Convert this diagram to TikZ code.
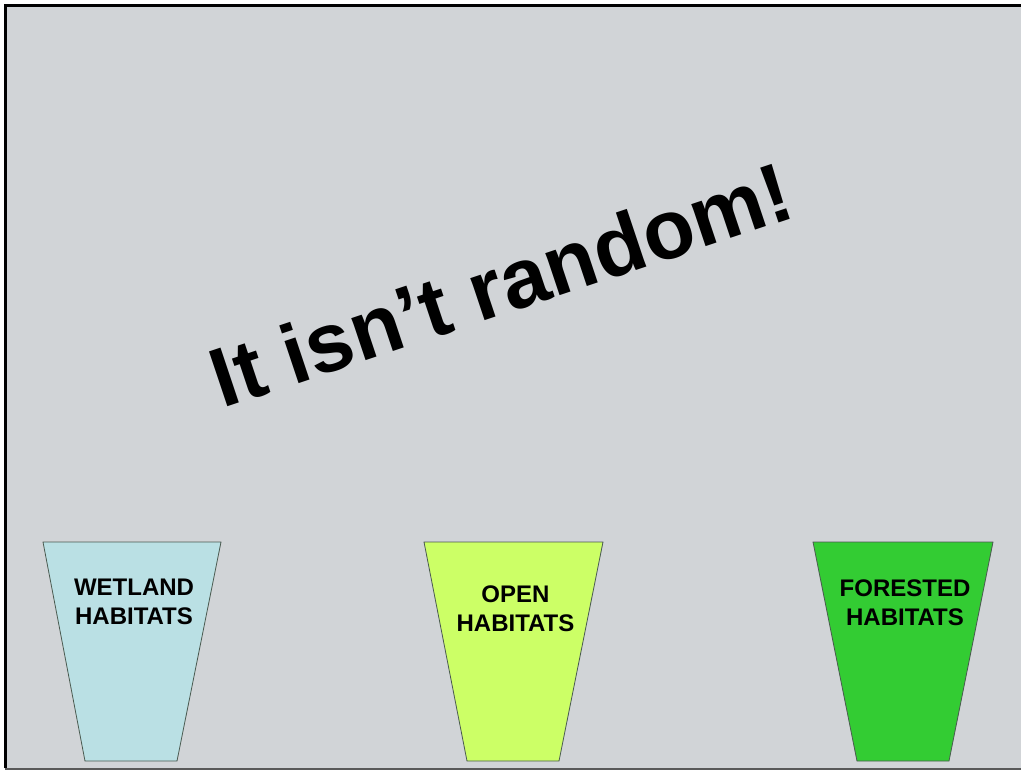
\documentclass[tikz,border=0pt]{standalone}
\usepackage{fontspec}
\setmainfont{Liberation Sans}
\usetikzlibrary{positioning,calc}
\definecolor{slidegray}{HTML}{D1D4D7}
\definecolor{wetcol}{HTML}{BAE0E4}
\definecolor{opencol}{HTML}{CCFF66}
\definecolor{forestcol}{HTML}{33CC33}
\definecolor{edgecol}{HTML}{4A5A50}

\begin{document}
\begin{tikzpicture}[x=1pt,y=-1pt]
\useasboundingbox (0,0) rectangle (1021,770);
% slide background and frame
\fill[slidegray] (6,5) rectangle (1021,768);
\draw[line width=3pt] (5.5,768) -- (5.5,5.5) -- (1021,5.5);
\draw[gray!70!black,line width=1.5pt] (5,769.2) -- (1021,769.2);
% headline
\node[font=\bfseries\fontsize{84}{90}\selectfont,rotate=18.5] (title) at (501,284) {It isn’t random!};
% habitat bins: top corners, bottom corners, label height, colour, label
\foreach \nm/\xl/\xr/\bl/\br/\ty/\col/\lbl in {wet/43/221/85/177/602/wetcol/WETLAND,open/424/603/467/559/609/opencol/OPEN,forest/813/993/857/949/603/forestcol/FORESTED} {
  \filldraw[fill=\col,draw=edgecol,line width=0.8pt] (\xl,542) -- (\xr,542) -- (\br,761) -- (\bl,761) -- cycle;
  \node[font=\bfseries\fontsize{24}{29}\selectfont,align=center,inner sep=0pt] (\nm) at ({(\xl+\xr)/2+2},\ty) {\lbl\\HABITATS};
}
\end{tikzpicture}
\end{document}
